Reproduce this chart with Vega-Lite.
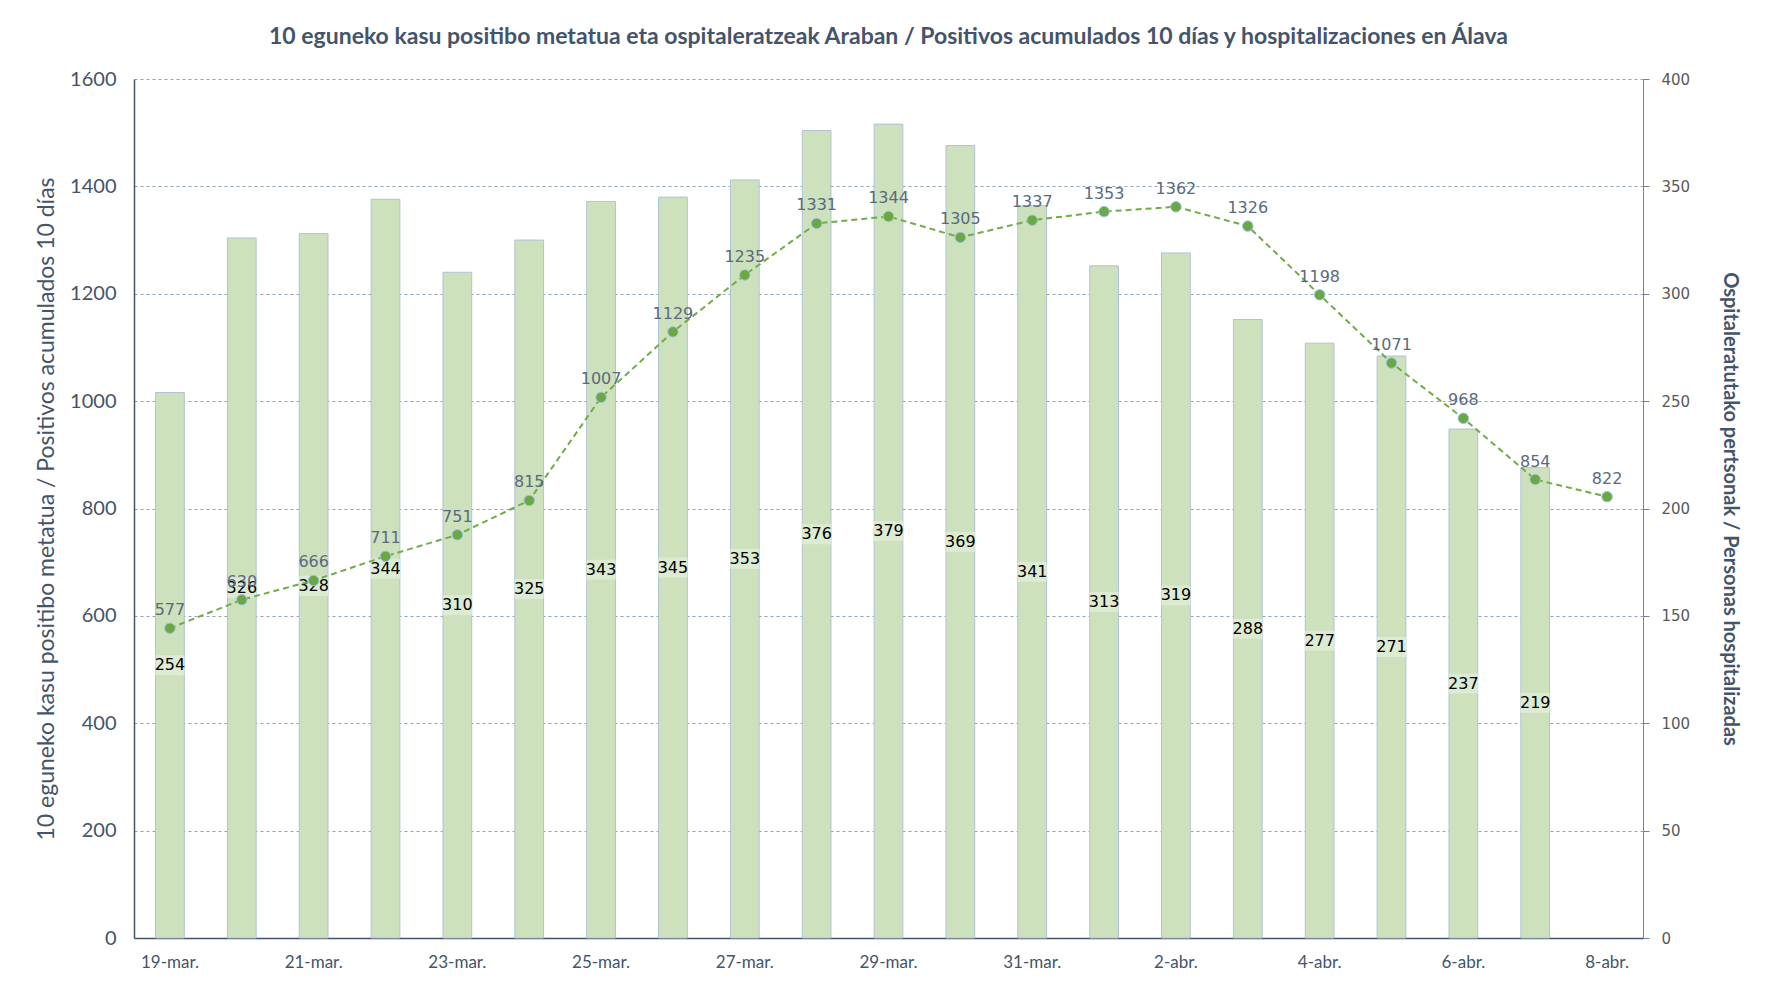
{
  "$schema": "https://vega.github.io/schema/vega-lite/v6.json",
  "autosize": "none",
  "width": 1509,
  "height": 859,
  "padding": {"left": 134, "top": 79, "right": 137, "bottom": 46},
  "background": "white",
  "config": {"view": {"stroke": null}},
  "title": {
    "text": "10 eguneko kasu positibo metatua eta ospitaleratzeak Araban  / Positivos acumulados 10 días y hospitalizaciones en Álava",
    "font": "Lato", "fontSize": 23, "fontWeight": "bold", "color": "#44546A",
    "anchor": "middle", "offset": 20
  },
  "data": {"values": [
    {"d": "19-mar.", "pos": 577, "hosp": 254},
    {"d": "20-mar.", "pos": 630, "hosp": 326},
    {"d": "21-mar.", "pos": 666, "hosp": 328},
    {"d": "22-mar.", "pos": 711, "hosp": 344},
    {"d": "23-mar.", "pos": 751, "hosp": 310},
    {"d": "24-mar.", "pos": 815, "hosp": 325},
    {"d": "25-mar.", "pos": 1007, "hosp": 343},
    {"d": "26-mar.", "pos": 1129, "hosp": 345},
    {"d": "27-mar.", "pos": 1235, "hosp": 353},
    {"d": "28-mar.", "pos": 1331, "hosp": 376},
    {"d": "29-mar.", "pos": 1344, "hosp": 379},
    {"d": "30-mar.", "pos": 1305, "hosp": 369},
    {"d": "31-mar.", "pos": 1337, "hosp": 341},
    {"d": "1-abr.", "pos": 1353, "hosp": 313},
    {"d": "2-abr.", "pos": 1362, "hosp": 319},
    {"d": "3-abr.", "pos": 1326, "hosp": 288},
    {"d": "4-abr.", "pos": 1198, "hosp": 277},
    {"d": "5-abr.", "pos": 1071, "hosp": 271},
    {"d": "6-abr.", "pos": 968, "hosp": 237},
    {"d": "7-abr.", "pos": 854, "hosp": 219},
    {"d": "8-abr.", "pos": 822, "hosp": null}
  ]},
  "encoding": {
    "x": {
      "field": "d", "type": "ordinal", "sort": null,
      "scale": {"paddingInner": 0, "paddingOuter": 0},
      "axis": {
        "title": null, "labelAngle": 0, "ticks": false,
        "values": ["19-mar.", "21-mar.", "23-mar.", "25-mar.", "27-mar.", "29-mar.", "31-mar.", "2-abr.", "4-abr.", "6-abr.", "8-abr."],
        "labelFont": "Lato", "labelFontSize": 17, "labelColor": "#44546A", "labelPadding": 16,
        "domainColor": "#44546A", "domainWidth": 1.5, "grid": false
      }
    }
  },
  "layer": [
    {
      "transform": [{"filter": "datum.hosp != null"}, {"calculate": "datum.hosp / 2", "as": "mid"}],
      "layer": [
        {
          "mark": {"type": "bar", "width": {"band": 0.4}, "fill": "#CDE2BC", "stroke": "#AFC2D8", "strokeWidth": 1},
          "encoding": {
            "y": {
              "field": "hosp", "type": "quantitative",
              "scale": {"domain": [0, 400]},
              "axis": {
                "orient": "right", "values": [0, 50, 100, 150, 200, 250, 300, 350, 400],
                "title": "Ospitaleratutako pertsonak / Personas hospitalizadas",
                "titleFont": "Lato", "titleFontSize": 20, "titleFontWeight": "bold", "titleColor": "#44546A",
                "titlePadding": 30,
                "labelFont": "DejaVu Sans", "labelFontSize": 15, "labelColor": "#595959", "labelPadding": 12,
                "ticks": true, "tickSize": 6, "tickColor": "#7F7F7F",
                "domainColor": "#7F7F7F", "grid": false
              }
            }
          }
        },
        {
          "mark": {"type": "tick", "orient": "horizontal", "size": 29, "thickness": 20, "color": "#DDEBD2", "opacity": 1},
          "encoding": {
            "y": {"field": "mid", "type": "quantitative"}
          }
        },
        {
          "mark": {"type": "text", "font": "DejaVu Sans", "fontSize": 16, "color": "#000000", "baseline": "middle"},
          "encoding": {
            "y": {"field": "mid", "type": "quantitative"},
            "text": {"field": "hosp", "type": "quantitative"}
          }
        }
      ]
    },
    {
      "layer": [
        {
          "mark": {"type": "line", "color": "#70AD47", "strokeWidth": 2, "strokeDash": [6, 4]},
          "encoding": {
            "y": {
              "field": "pos", "type": "quantitative",
              "scale": {"domain": [0, 1600]},
              "axis": {
                "orient": "left", "values": [0, 200, 400, 600, 800, 1000, 1200, 1400, 1600], "format": "d",
                "title": "10 eguneko kasu positibo metatua  / Positivos acumulados 10 días",
                "titleFont": "Lato", "titleFontSize": 23, "titleFontWeight": "normal", "titleColor": "#44546A",
                "titlePadding": 11,
                "labelFont": "Lato", "labelFontSize": 20, "labelColor": "#44546A", "labelPadding": 18,
                "ticks": false, "domainColor": "#44546A", "domainWidth": 1.5,
                "grid": true, "gridColor": "#8EA4BD", "gridDash": [3, 3], "gridWidth": 1
              }
            }
          }
        },
        {
          "mark": {"type": "point", "filled": true, "size": 110, "fill": "#6AA842", "stroke": "#9DC3E6", "strokeWidth": 1, "opacity": 1},
          "encoding": {"y": {"field": "pos", "type": "quantitative"}}
        },
        {
          "mark": {"type": "text", "font": "DejaVu Sans", "fontSize": 16, "color": "#596A80", "baseline": "bottom", "dy": -10},
          "encoding": {
            "y": {"field": "pos", "type": "quantitative"},
            "text": {"field": "pos", "type": "quantitative"}
          }
        }
      ]
    }
  ],
  "resolve": {"scale": {"y": "independent"}}
}
